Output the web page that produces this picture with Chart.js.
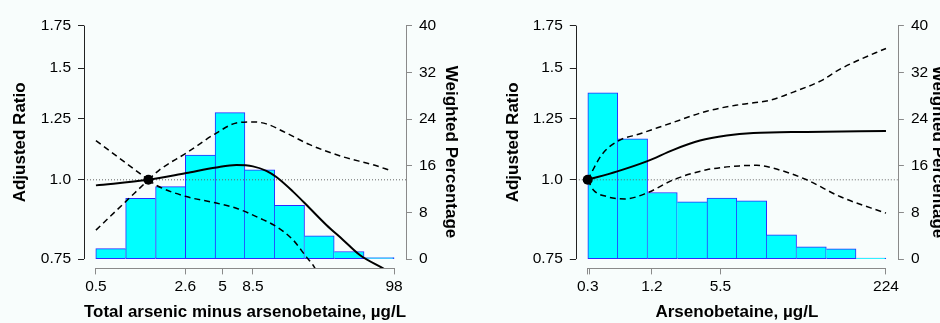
<!DOCTYPE html>
<html><head><meta charset="utf-8">
<script src="https://cdn.jsdelivr.net/npm/chart.js@4/dist/chart.umd.min.js"></script>
<style>
html,body{margin:0;padding:0;background:#f8fdfc;}
#wrap{position:relative;width:940px;height:323px;overflow:hidden;background:#f8fdfc;}
.panel{position:absolute;top:0;width:470px;height:323px;}
</style></head><body>
<div id="wrap">
<div class="panel" style="left:0"><canvas id="c1" width="470" height="323"></canvas></div>
<div class="panel" style="left:470px"><canvas id="c2" width="470" height="323"></canvas></div>
</div>
<script>
// ---------- shared axis data ----------
const ratioTicks = [0.75, 1.0, 1.25, 1.5, 1.75];
const ratioTickLabels = ['0.75', '1.0', '1.25', '1.5', '1.75'];
const pctTicks = [0, 8, 16, 24, 32, 40];

// ---------- Panel A: total arsenic minus arsenobetaine ----------
const aXTicks = [0.5, 2.6, 5, 8.5, 98];
const aXTickLabels = ['0.5', '2.6', '5', '8.5', '98'];
const aBinEdges = [0.5, 0.88, 1.53, 2.6, 4.38, 7.41, 12.4, 20.9, 34.7, 58.3, 98];
const aBinPct = [1.8, 10.4, 12.4, 17.8, 25.1, 15.3, 9.2, 4.0, 1.3, 0.25];
const aRef = 1.34;
const aFitX = [0.5, 1.34, 2.64, 4.49, 6.37, 8.51, 10.74, 12.78, 17.06, 22.8, 30.4, 40.6, 54.2, 81.1, 98];
const aFitY = [0.980, 1.0, 1.025, 1.046, 1.055, 1.050, 1.033, 1.010, 0.958, 0.902, 0.849, 0.804, 0.761, 0.725, 0.708];
const aUpX = [0.5, 1.34, 1.64, 2.64, 4.49, 6.37, 8.51, 10.74, 15.2, 22.8, 40.6, 68.2, 93.6];
const aUpY = [1.153, 1.0, 1.037, 1.102, 1.185, 1.229, 1.234, 1.225, 1.185, 1.136, 1.087, 1.056, 1.033];
const aLoX = [0.5, 1.34, 1.55, 2.64, 4.49, 6.37, 9.56, 12.78, 17.06, 21.5, 24.1, 27.1];
const aLoY = [0.833, 1.0, 0.980, 0.941, 0.919, 0.902, 0.870, 0.844, 0.804, 0.756, 0.734, 0.703];

// ---------- Panel B: arsenobetaine ----------
const bXTicks = [0.3, 0.31, 1.2, 5.5, 224];
const bXTickLabels = ['0.3', '', '1.2', '5.5', '224'];
const bBinEdges = [0.3, 0.57, 1.09, 2.11, 4.05, 7.97, 15.4, 30.3, 58.9, 114, 224];
const bBinPct = [28.5, 20.6, 11.4, 9.8, 10.45, 10.0, 4.15, 2.1, 1.76, 0.15];
const bRef = 0.3;
const bFitX = [0.3, 0.564, 1.07, 1.93, 3.49, 6.33, 11.48, 37.9, 224];
const bFitY = [1.0, 1.031, 1.069, 1.115, 1.153, 1.174, 1.185, 1.190, 1.194];
const bUpX = [0.3, 0.403, 0.564, 0.925, 1.93, 4.05, 8.52, 16.67, 28.1, 55.0, 74.1, 116, 224];
const bUpY = [1.0, 1.095, 1.150, 1.182, 1.232, 1.283, 1.314, 1.335, 1.375, 1.439, 1.484, 1.539, 1.611];
const bLoX = [0.3, 0.338, 0.449, 0.666, 1.07, 1.93, 4.05, 8.52, 12.37, 17.96, 37.9, 79.9, 224];
const bLoY = [1.0, 0.964, 0.941, 0.933, 0.953, 1.0, 1.037, 1.052, 1.054, 1.043, 1.0, 0.941, 0.886];

// ---------- custom x scale: log(x + shift) ----------
class ShiftLogScale extends Chart.LinearScale {
  determineDataLimits() { this.min = this.options.min; this.max = this.options.max; }
  buildTicks() { return this.options.tickValues.map(v => ({ value: v })); }
  configure() {
    super.configure();
    const c = this.options.shift;
    this._t0 = Math.log(this.min + c);
    this._t1 = Math.log(this.max + c);
  }
  getPixelForValue(v) {
    if (v === null || v === undefined || isNaN(v)) return NaN;
    const c = this.options.shift;
    return this.getPixelForDecimal((Math.log(v + c) - this._t0) / (this._t1 - this._t0));
  }
  getValueForPixel(p) {
    const d = this.getDecimalForPixel(p);
    return Math.exp(this._t0 + d * (this._t1 - this._t0)) - this.options.shift;
  }
}
ShiftLogScale.id = 'shiftlog';
Chart.register(ShiftLogScale);

Chart.defaults.font.family = '"Liberation Sans", Arial, Helvetica, sans-serif';
Chart.defaults.color = '#000';

const TICK_FONT = { size: 15.5 };
const TITLE_FONT = { size: 17, weight: 'bold' };

function pts(xs, ys) { return xs.map((x, i) => ({ x: x, y: ys[i] })); }
function splitAt(xs, ys, ref) {
  const l = [], r = [];
  xs.forEach((x, i) => { if (x <= ref) l.push({ x: x, y: ys[i] }); if (x >= ref) r.push({ x: x, y: ys[i] }); });
  return [l, r];
}

const axisLines = {
  id: 'axisLines',
  afterDraw(chart) {
    const ctx = chart.ctx, ca = chart.chartArea;
    const sx = chart.scales.x, yl = chart.scales.yL, yr = chart.scales.yR;
    const a = v => Math.round(v) + 0.5;
    ctx.save();
    ctx.lineWidth = 1;
    ctx.strokeStyle = '#222';
    ctx.beginPath();
    ctx.moveTo(a(ca.left), yl.getPixelForValue(ratioTicks[0]));
    ctx.lineTo(a(ca.left), yl.getPixelForValue(ratioTicks[ratioTicks.length - 1]));
    ctx.stroke();
    ctx.strokeStyle = '#8a8a8a';
    ctx.beginPath();
    ctx.moveTo(a(ca.right), yr.getPixelForValue(pctTicks[0]));
    ctx.lineTo(a(ca.right), yr.getPixelForValue(pctTicks[pctTicks.length - 1]));
    ctx.stroke();
    const tv = sx.options.tickValues;
    ctx.beginPath();
    ctx.moveTo(sx.getPixelForValue(tv[0]), a(ca.bottom));
    ctx.lineTo(sx.getPixelForValue(tv[tv.length - 1]), a(ca.bottom));
    ctx.stroke();
    ctx.restore();
  }
};

const sideTitle = {
  id: 'sideTitle',
  afterDraw(chart, args, opts) {
    const ctx = chart.ctx;
    ctx.save();
    ctx.font = 'bold 17px "Liberation Sans", Arial, sans-serif';
    ctx.fillStyle = '#000';
    ctx.translate(opts.x, opts.y);
    ctx.rotate(Math.PI / 2);
    ctx.textAlign = 'center';
    ctx.textBaseline = 'middle';
    ctx.fillText(opts.text, 0, 0);
    ctx.restore();
  }
};

function buildPanel(id, P) {
  const c = P.shift;
  const f = v => Math.log(v + c), finv = t => Math.exp(t) - c;
  const tA = f(P.xTicks[0]), tB = f(P.xTicks[P.xTicks.length - 1]);
  const ex = 0.04 * (tB - tA);
  const xMin = finv(tA - ex), xMax = finv(tB + ex);
  const rA = Math.log(ratioTicks[0]), rB = Math.log(ratioTicks[ratioTicks.length - 1]);
  const er = 0.04 * (rB - rA);
  const yMin = Math.exp(rA - er), yMax = Math.exp(rB + er);
  const pA = pctTicks[0], pB = pctTicks[pctTicks.length - 1];
  const ep = 0.04 * (pB - pA);
  const pct = P.binPct;
  const centers = P.binEdges.slice(0, -1).map((e, i) => finv((f(e) + f(P.binEdges[i + 1])) / 2));

  const datasets = [];
  datasets.push({
    type: 'bar', yAxisID: 'yR', xAxisID: 'x', order: 10,
    data: centers.map((x, i) => ({ x: x, y: pct[i] })),
    backgroundColor: '#00ffff', borderColor: '#2b2bff', borderSkipped: false,
    borderWidth: (ctx) => {
      const i = ctx.dataIndex, n = pct.length;
      return { top: 1, bottom: 1,
        left: (i === 0 || pct[i] >= pct[i - 1]) ? 1 : 0,
        right: (i === n - 1 || pct[i] > pct[i + 1]) ? 1 : 0 };
    },
    barThickness: 'flex', barPercentage: 1, categoryPercentage: 1
  });
  datasets.push({
    type: 'line', yAxisID: 'yL', order: 5,
    data: [{ x: xMin, y: 1 }, { x: xMax, y: 1 }],
    borderColor: '#666', borderWidth: 1, borderDash: [1, 2], pointRadius: 0
  });
  const line = (data, dash, w) => ({
    type: 'line', yAxisID: 'yL', order: 2, data: data,
    borderColor: '#000', borderWidth: w, borderDash: dash, pointRadius: 0,
    cubicInterpolationMode: 'monotone', fill: false
  });
  datasets.push(line(pts(P.fitX, P.fitY), [], 2));
  splitAt(P.upX, P.upY, P.ref).concat(splitAt(P.loX, P.loY, P.ref)).forEach(seg => {
    if (seg.length >= 2) datasets.push(line(seg, [6, 4], 1.5));
  });
  datasets.push({
    type: 'line', yAxisID: 'yL', order: 0, showLine: false,
    data: [{ x: P.ref, y: 1 }],
    pointRadius: 5, pointBackgroundColor: '#000', pointBorderColor: '#000', pointBorderWidth: 0
  });

  return new Chart(document.getElementById(id), {
    type: 'line',
    data: { datasets: datasets },
    plugins: [axisLines, sideTitle],
    options: {
      responsive: false, animation: false,
      layout: { padding: { top: 14.6, left: 0, right: 0, bottom: 0 } },
      plugins: { legend: { display: false }, tooltip: { enabled: false },
        sideTitle: { text: 'Weighted Percentage', x: P.rTitleX, y: 152 } },
      scales: {
        x: {
          type: 'shiftlog', position: 'bottom', shift: c, min: xMin, max: xMax, bounds: 'data',
          tickValues: P.xTicks, offset: false,
          grid: { drawOnChartArea: false, drawTicks: true, tickLength: 6, color: '#8a8a8a', offset: false },
          border: { display: false },
          ticks: { font: TICK_FONT, padding: 3, autoSkip: false, maxRotation: 0, minRotation: 0,
            callback: (v, i) => P.xTickLabels[i] },
          title: { display: true, text: P.xTitle, font: TITLE_FONT, padding: { top: 0, bottom: 0 } },
          afterFit: s => { s.height = 54.6; }
        },
        yL: {
          type: 'logarithmic', position: 'left', min: yMin, max: yMax, bounds: 'data',
          afterBuildTicks: s => { s.min = yMin; s.max = yMax; s.ticks = ratioTicks.map(v => ({ value: v })); },
          grid: { drawOnChartArea: false, drawTicks: true, tickLength: 6, color: '#222' },
          border: { display: false },
          ticks: { font: TICK_FONT, padding: 7, autoSkip: false, callback: (v, i) => ratioTickLabels[i] },
          title: { display: true, text: 'Adjusted Ratio', font: TITLE_FONT, padding: { top: P.lTitlePad, bottom: 0 } },
          afterFit: s => { s.width = P.lWidth; }
        },
        yR: {
          type: 'linear', position: 'right', min: pA - ep, max: pB + ep, bounds: 'data',
          afterBuildTicks: s => { s.min = pA - ep; s.max = pB + ep; s.ticks = pctTicks.map(v => ({ value: v })); },
          grid: { drawOnChartArea: false, drawTicks: true, tickLength: 6, color: '#8a8a8a' },
          border: { display: false },
          ticks: { font: TICK_FONT, padding: 7, autoSkip: false, callback: v => String(v) },
          afterFit: s => { s.width = P.rWidth; }
        }
      }
    }
  });
}

buildPanel('c1', {
  shift: 0.07, xTicks: aXTicks, xTickLabels: aXTickLabels, xTitle: 'Total arsenic minus arsenobetaine, µg/L',
  binEdges: aBinEdges, binPct: aBinPct, ref: aRef,
  fitX: aFitX, fitY: aFitY, upX: aUpX, upY: aUpY, loX: aLoX, loY: aLoY,
  lWidth: 84, rWidth: 64, lTitlePad: 10.5, rTitleX: 450.8
});
buildPanel('c2', {
  shift: -0.02, xTicks: bXTicks, xTickLabels: bXTickLabels, xTitle: 'Arsenobetaine, µg/L',
  binEdges: bBinEdges, binPct: bBinPct, ref: bRef,
  fitX: bFitX, fitY: bFitY, upX: bUpX, upY: bUpY, loX: bLoX, loY: bLoY,
  lWidth: 105.8, rWidth: 42.1, lTitlePad: 33.1, rTitleX: 467.5
});
</script>
</body></html>
